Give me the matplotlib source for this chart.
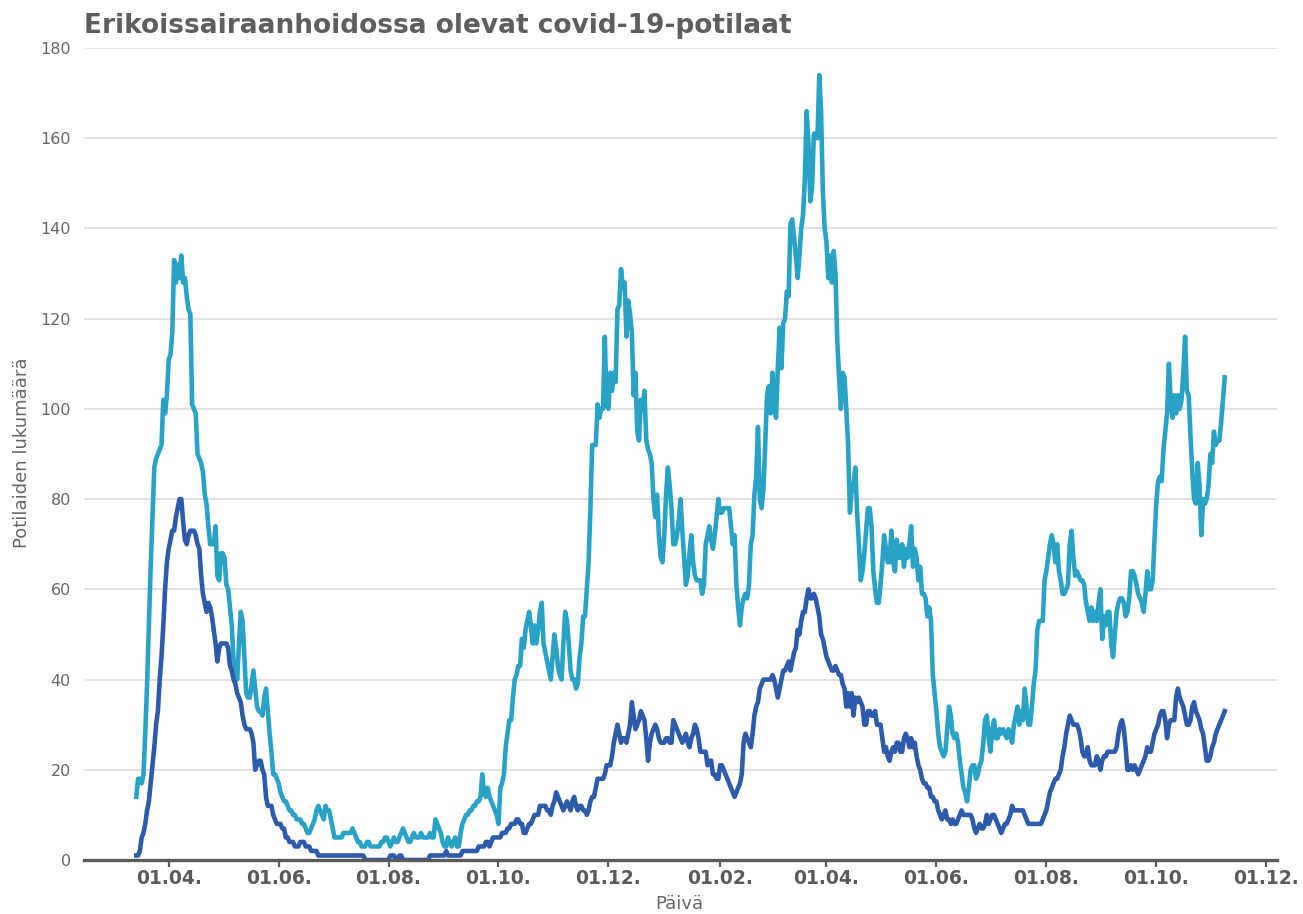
import numpy as np
import pandas as pd
import matplotlib
matplotlib.use("Agg")
import matplotlib.pyplot as plt
import matplotlib.dates as mdates

title = "Erikoissairaanhoidossa olevat covid-19-potilaat"
x_label = "Päivä"
y_label = "Potilaiden lukumäärä"
start_date = "2020-03-14"
y_ticks = [0, 20, 40, 60, 80, 100, 120, 140, 160, 180]

# Daily values, first value = 2020-03-14
total_patients = [
    14, 18, 18, 17, 19, 28, 39, 52, 65, 76, 87, 89, 90, 91, 92, 102, 99, 103,
    111, 112, 117, 133, 128, 132, 129, 134, 128, 129,
    125, 122, 121, 101, 100, 99, 90, 89, 88, 86,
    81, 79, 74, 70, 70, 70, 74, 63, 62, 68,
    68, 67, 61, 60, 56, 52, 44, 42, 40, 48,
    55, 53, 45, 37, 36, 36, 39, 42, 38, 34,
    33, 33, 32, 36, 38, 33, 28, 24, 19, 19,
    18, 17, 15, 14, 13, 13, 12, 11, 11, 10,
    10, 9, 9, 9, 8, 8, 7, 6, 6, 7,
    8, 9, 11, 12, 11, 10, 9, 12, 11, 11,
    9, 7, 5, 5, 5, 5, 5, 6, 6, 6,
    6, 6, 7, 6, 5, 4, 4, 3, 3, 3,
    4, 4, 3, 3, 3, 3, 3, 3, 4, 4,
    5, 5, 4, 3, 4, 5, 4, 4, 5, 6,
    7, 6, 5, 4, 4, 5, 6, 5, 5, 5,
    6, 5, 5, 5, 5, 6, 5, 5, 9, 8,
    7, 6, 4, 3, 3, 5, 4, 3, 4, 5,
    3, 3, 6, 8, 9, 10, 10, 11, 11, 12,
    12, 13, 13, 14, 19, 15, 14, 16, 14, 13,
    12, 11, 10, 8, 16, 17, 19, 25, 28, 31,
    31, 36, 40, 41, 43, 43, 49, 47, 51, 53,
    55, 52, 48, 52, 48, 51, 55, 57, 48, 46,
    44, 42, 40, 45, 50, 47, 43, 41, 40, 48,
    55, 53, 48, 42, 40, 40, 38, 39, 45, 48,
    54, 54, 60, 66, 78, 92, 92, 92, 101, 98,
    100, 100, 116, 101, 100, 108, 104, 108, 106, 122,
    123, 131, 127, 128, 116, 124, 121, 117, 103, 108,
    95, 93, 102, 100, 104, 93, 91, 90, 88, 80,
    76, 81, 72, 67, 66, 72, 81, 87, 83, 78,
    70, 70, 72, 75, 80, 73, 67, 61, 63, 68,
    72, 66, 63, 62, 62, 62, 59, 61, 70, 72,
    74, 71, 69, 72, 76, 80, 77, 77, 78, 78,
    78, 78, 74, 70, 72, 61, 56, 52, 56, 58,
    59, 58, 61, 70, 72, 81, 85, 96, 80, 78,
    82, 92, 103, 105, 99, 108, 102, 98, 109, 118,
    109, 119, 120, 126, 125, 141, 142, 138, 134, 129,
    134, 140, 143, 151, 166, 159, 146, 149, 161, 161,
    160, 174, 166, 148, 140, 137, 129, 134, 128, 135,
    130, 115, 107, 100, 108, 107, 100, 92, 77, 82,
    83, 87, 77, 70, 62, 64, 68, 73, 78, 78,
    74, 64, 60, 57, 57, 61, 66, 72, 69, 66,
    66, 73, 66, 64, 71, 67, 67, 70, 65, 69,
    67, 70, 74, 65, 69, 67, 62, 65, 59, 59,
    58, 54, 56, 53, 41, 37, 33, 28, 25, 24,
    23, 24, 29, 34, 32, 28, 27, 28, 26, 22,
    19, 16, 15, 13, 16, 20, 21, 21, 18, 19,
    21, 22, 26, 31, 32, 27, 24, 29, 31, 27,
    27, 29, 28, 29, 28, 27, 29, 28, 26, 30,
    32, 34, 30, 33, 31, 38, 34, 30, 30, 34,
    39, 42, 51, 53, 53, 53, 62, 64, 67, 70,
    72, 70, 66, 70, 64, 62, 59, 59, 60, 61,
    70, 73, 67, 63, 64, 63, 62, 62, 61, 57,
    55, 53, 56, 53, 55, 53, 57, 60, 49, 54,
    52, 55, 55, 48, 45, 50, 55, 57, 58, 58,
    57, 54, 55, 58, 64, 64, 63, 61, 59, 58,
    57, 55, 59, 64, 60, 60, 62, 71, 79, 84,
    85, 84, 91, 95, 99, 110, 102, 98, 103, 99,
    103, 100, 102, 108, 116, 104, 103, 94, 86, 80,
    79, 88, 83, 72, 80, 79, 80, 83, 90, 88,
    95, 92, 93, 93, 97, 102, 107,
]

icu_patients = [
    1, 1, 2, 5, 6, 8, 11, 13, 17, 21, 25, 30, 33, 40, 45, 52, 60, 66,
    69, 71, 73, 73, 76, 78, 80, 80, 75, 71,
    70, 72, 73, 73, 73, 72, 70, 69, 63, 59,
    57, 55, 57, 56, 54, 51, 48, 44, 47, 48,
    48, 48, 48, 47, 43, 42, 40, 39, 37, 36,
    35, 32, 30, 29, 29, 29, 28, 26, 20, 21,
    22, 22, 20, 19, 14, 12, 12, 12, 10, 9,
    8, 8, 8, 7, 7, 5, 5, 4, 4, 4,
    3, 3, 3, 4, 4, 4, 3, 3, 3, 2,
    2, 2, 2, 1, 1, 1, 1, 1, 1, 1,
    1, 1, 1, 1, 1, 1, 1, 1, 1, 1,
    1, 1, 1, 1, 1, 1, 1, 1, 1, 0,
    0, 0, 0, 0, 0, 0, 0, 0, 0, 0,
    0, 0, 0, 1, 1, 1, 0, 0, 1, 1,
    0, 0, 0, 0, 0, 0, 0, 0, 0, 0,
    0, 0, 0, 0, 0, 1, 1, 1, 1, 1,
    1, 1, 1, 1, 2, 1, 1, 1, 1, 1,
    1, 1, 1, 2, 2, 2, 2, 2, 2, 2,
    2, 2, 3, 3, 3, 3, 4, 4, 3, 4,
    5, 5, 5, 5, 5, 6, 6, 6, 7, 7,
    8, 8, 8, 9, 9, 8, 8, 6, 6, 7,
    8, 8, 9, 10, 10, 10, 12, 12, 12, 12,
    11, 11, 10, 12, 13, 15, 14, 13, 12, 11,
    12, 13, 12, 11, 13, 14, 12, 11, 12, 12,
    11, 11, 10, 11, 13, 14, 14, 16, 18, 18,
    18, 18, 19, 21, 21, 21, 23, 26, 28, 30,
    28, 26, 27, 27, 26, 28, 30, 35, 32, 29,
    30, 31, 33, 32, 31, 27, 22, 26, 28, 29,
    30, 29, 27, 26, 26, 26, 27, 27, 26, 26,
    31, 30, 29, 28, 27, 26, 27, 28, 26, 25,
    27, 28, 30, 29, 27, 24, 24, 24, 24, 21,
    22, 22, 19, 19, 18, 18, 21, 21, 20, 19,
    18, 17, 16, 15, 14, 15, 16, 17, 19, 26,
    28, 27, 26, 25, 28, 32, 34, 35, 38, 39,
    40, 40, 40, 40, 40, 41, 40, 38, 36, 38,
    40, 42, 42, 43, 44, 42, 44, 46, 47, 51,
    50, 53, 55, 55, 58, 60, 58, 58, 59, 58,
    56, 54, 50, 49, 47, 45, 44, 43, 42, 42,
    43, 42, 41, 41, 39, 38, 34, 37, 34, 37,
    32, 36, 35, 36, 35, 34, 30, 30, 33, 33,
    32, 32, 33, 30, 30, 30, 27, 24, 25, 23,
    22, 24, 25, 24, 26, 26, 24, 24, 27, 28,
    27, 25, 27, 25, 26, 23, 21, 20, 18, 17,
    17, 16, 16, 14, 14, 13, 13, 11, 10, 9,
    10, 11, 9, 9, 8, 9, 8, 8, 9, 10,
    11, 10, 10, 10, 10, 10, 9, 7, 6, 7,
    8, 7, 7, 8, 10, 8, 9, 10, 10, 9,
    8, 7, 6, 7, 8, 8, 9, 10, 12, 11,
    11, 11, 11, 11, 11, 10, 9, 8, 8, 8,
    8, 8, 8, 8, 8, 9, 10, 11, 13, 15,
    16, 17, 18, 18, 19, 20, 23, 25, 28, 30,
    32, 31, 30, 30, 30, 29, 27, 24, 23, 23,
    25, 22, 21, 21, 21, 23, 22, 20, 22, 23,
    23, 24, 24, 24, 24, 24, 25, 28, 30, 31,
    29, 25, 20, 20, 21, 20, 21, 20, 19, 20,
    21, 22, 23, 25, 24, 24, 26, 28, 29, 30,
    32, 33, 33, 31, 27, 30, 31, 31, 31, 36,
    38, 36, 35, 34, 32, 30, 30, 31, 34, 35,
    33, 32, 31, 29, 28, 25, 22, 22, 23, 25,
    26, 28, 29, 30, 31, 32, 33,
]

color_total = "#29a2c7"
color_icu = "#2c5aac"
gray_dark = "#5a5a5a"
gray_text = "#666666"

dates_total = pd.date_range(start_date, periods=len(total_patients), freq="D")
dates_icu = pd.date_range(start_date, periods=len(icu_patients), freq="D")

W, H = 1303, 914
fig = plt.figure(figsize=(W / 100, H / 100), dpi=100)
left, right, top, bottom = 84, 1277, 48, 860
ax = fig.add_axes([left / W, 1 - bottom / H, (right - left) / W, (bottom - top) / H])

ax.plot(dates_total, total_patients, color=color_total, lw=3.3, solid_joinstyle="round", zorder=3)
ax.plot(dates_icu, icu_patients, color=color_icu, lw=3.3, solid_joinstyle="round", zorder=4)

ax.set_ylim(0, 180)
ax.set_xlim(pd.Timestamp("2020-02-14"), pd.Timestamp("2021-12-07"))
ax.set_yticks(y_ticks)
ax.yaxis.grid(True, color="#dedede", lw=1.3, zorder=0)
ax.set_axisbelow(True)

for s in ["left", "right", "top"]:
    ax.spines[s].set_visible(False)
ax.spines["bottom"].set_color(gray_dark)
ax.spines["bottom"].set_linewidth(2.4)
ax.spines["bottom"].set_zorder(5)

ax.xaxis.set_major_locator(mdates.MonthLocator(bymonth=[2, 4, 6, 8, 10, 12], bymonthday=1))
ax.xaxis.set_major_formatter(mdates.DateFormatter("%d.%m."))
ax.tick_params(axis="x", colors=gray_dark, length=5, width=1.6, pad=1.5, labelsize=13.5)
for lbl in ax.get_xticklabels():
    lbl.set_fontweight("bold")
ax.tick_params(axis="y", length=0, pad=9.5, labelsize=11.5, labelcolor=gray_text)

fig.text(left / W, 1 - 33 / H, title, fontsize=19, fontweight="bold", color="#5e5e5e", va="baseline", ha="left")
fig.text(22 / W, 1 - 453 / H, y_label, rotation=90, fontsize=13, color=gray_text, ha="center", va="center")
fig.text(679 / W, 1 - 904 / H, x_label, fontsize=13, color=gray_text, ha="center", va="center")

fig.savefig("out.png", dpi=100)
